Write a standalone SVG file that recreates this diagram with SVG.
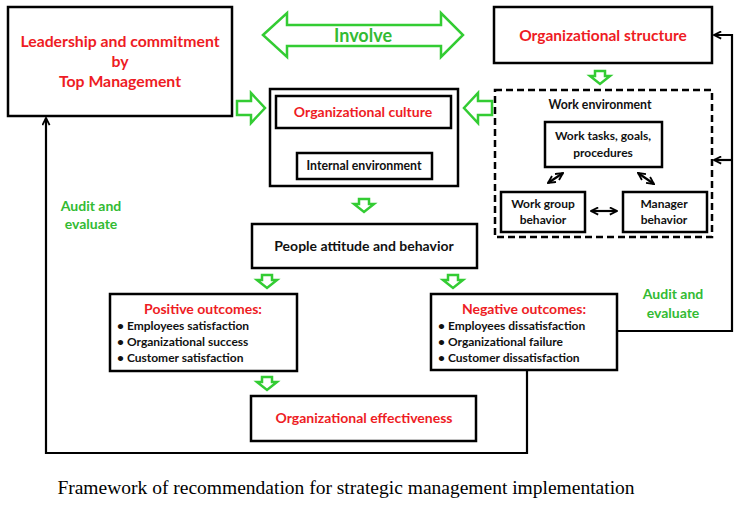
<svg xmlns="http://www.w3.org/2000/svg" width="741" height="507" viewBox="0 0 741 507">
<style>
.box{fill:#fff;stroke:#000;stroke-width:2.5}
.dash{fill:none;stroke:#000;stroke-width:2.5;stroke-dasharray:7,4}
.garrow{fill:#fff;stroke:#3c3;stroke-width:2.5;stroke-linejoin:miter}
.line{fill:none;stroke:#000;stroke-width:2.2}
.t{font-family:Lato,"Open Sans","Liberation Sans",sans-serif;font-weight:bold;text-anchor:middle}
.red{fill:#ee1c24}
.grn{fill:#3b3}
.blk{fill:#111}
.bl{font-family:Lato,"Open Sans","Liberation Sans",sans-serif;font-weight:bold;font-size:12px;fill:#111}
</style>
<defs>
<marker id="ah" viewBox="0 0 10 10" refX="9" refY="5" markerWidth="9" markerHeight="9" markerUnits="userSpaceOnUse" orient="auto-start-reverse">
<path d="M1,1 L9,5 L1,9" fill="none" stroke="#000" stroke-width="2"/>
</marker>
<path id="down" d="M-5,0 L5,0 L5,5 L10,5 L0,13 L-10,5 L-5,5 Z"/>
</defs>

<g id="connectors">
<polyline class="line" points="527,371 527,453 46,453 46,118" marker-end="url(#ah)"/>
<polyline class="line" points="617,331 732,331 732,35 714,35" marker-end="url(#ah)"/>
<line class="line" x1="732" y1="160" x2="714" y2="160" marker-end="url(#ah)"/>
<line class="line" x1="548" y1="183" x2="563" y2="173" marker-start="url(#ah)" marker-end="url(#ah)"/>
<line class="line" x1="638" y1="173" x2="654" y2="184" marker-start="url(#ah)" marker-end="url(#ah)"/>
<line class="line" x1="591" y1="211" x2="617" y2="211" marker-start="url(#ah)" marker-end="url(#ah)"/>
<path class="garrow" d="M263,35 L287,13 L287,25 L441,25 L441,13 L463,35 L441,57 L441,46 L287,46 L287,57 Z"/>
<path class="garrow" d="M237,101 L251,101 L251,93 L265,108 L251,123 L251,115 L237,115 Z"/>
<path class="garrow" d="M492,101 L478,101 L478,93 L464,108 L478,123 L478,115 L492,115 Z"/>
<use href="#down" class="garrow" transform="translate(600,71)"/>
<use href="#down" class="garrow" transform="translate(364,135)"/>
<use href="#down" class="garrow" transform="translate(364,199)"/>
<use href="#down" class="garrow" transform="translate(267,275)"/>
<use href="#down" class="garrow" transform="translate(453,275)"/>
<use href="#down" class="garrow" transform="translate(267,377)"/>
<text class="t grn" x="363" y="42" font-size="18">Involve</text>
<text class="t grn" x="91" y="211" font-size="14">Audit and</text>
<text class="t grn" x="91" y="229" font-size="14">evaluate</text>
<text class="t grn" x="673" y="299" font-size="14">Audit and</text>
<text class="t grn" x="673" y="318" font-size="14">evaluate</text>
</g>

<g id="leadership">
<rect class="box" x="8" y="7" width="224" height="109"/>
<text class="t red" x="120" y="47" font-size="15.8">Leadership and commitment</text>
<text class="t red" x="120" y="67" font-size="15.8">by</text>
<text class="t red" x="120" y="87" font-size="15.8">Top Management</text>
</g>

<g id="org-structure">
<rect class="box" x="494" y="7" width="218" height="56"/>
<text class="t red" x="603" y="41" font-size="15.5">Organizational structure</text>
</g>

<g id="work-environment">
<rect class="dash" x="495" y="90" width="217" height="147"/>
<text class="t blk" x="600" y="109" font-size="12.3">Work environment</text>
</g>

<g id="work-tasks">
<rect class="box" x="545" y="122" width="117" height="45"/>
<text class="t blk" x="603" y="140" font-size="12">Work tasks, goals,</text>
<text class="t blk" x="603" y="157" font-size="12">procedures</text>
</g>

<g id="work-group">
<rect class="box" x="501" y="192" width="84" height="40"/>
<text class="t blk" x="543" y="208" font-size="12">Work group</text>
<text class="t blk" x="543" y="224" font-size="12">behavior</text>
</g>

<g id="manager">
<rect class="box" x="623" y="192" width="84" height="40"/>
<text class="t blk" x="664" y="208" font-size="12">Manager</text>
<text class="t blk" x="664" y="224" font-size="12">behavior</text>
</g>

<g id="culture-group">
<rect class="box" x="270" y="89" width="188" height="97"/>
</g>

<g id="org-culture">
<rect class="box" x="276" y="96" width="175" height="32"/>
<text class="t red" x="363" y="117" font-size="14">Organizational culture</text>
</g>

<g id="internal-env">
<rect class="box" x="297" y="153" width="135" height="26"/>
<text class="t blk" x="364" y="170" font-size="12.3">Internal environment</text>
</g>

<g id="people">
<rect class="box" x="252" y="224" width="225" height="44"/>
<text class="t blk" x="364" y="251" font-size="14">People attitude and behavior</text>
</g>

<g id="positive">
<rect class="box" x="110" y="294" width="187" height="77"/>
<text class="t red" x="203" y="314" font-size="14">Positive outcomes:</text>
<text class="bl" x="117" y="330">• Employees satisfaction</text>
<text class="bl" x="117" y="346">• Organizational success</text>
<text class="bl" x="117" y="362">• Customer satisfaction</text>
</g>

<g id="negative">
<rect class="box" x="431" y="294" width="186" height="76"/>
<text class="t red" x="524" y="314" font-size="14">Negative outcomes:</text>
<text class="bl" x="438" y="330">• Employees dissatisfaction</text>
<text class="bl" x="438" y="346">• Organizational failure</text>
<text class="bl" x="438" y="362">• Customer dissatisfaction</text>
</g>

<g id="effectiveness">
<rect class="box" x="251" y="396" width="225" height="45"/>
<text class="t red" x="364" y="423" font-size="14">Organizational effectiveness</text>
</g>

<text x="346" y="494" font-family="'Liberation Serif','Times New Roman',serif" font-size="19.5" text-anchor="middle" fill="#000">Framework of recommendation for strategic management implementation</text>
</svg>
